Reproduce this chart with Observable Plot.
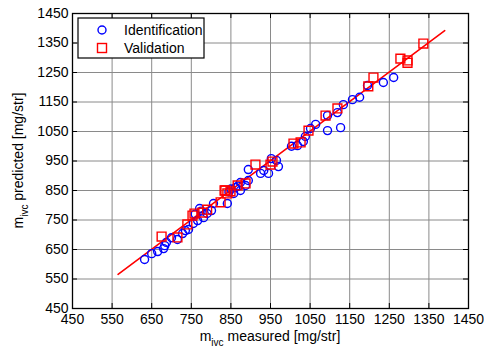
<!DOCTYPE html>
<html>
<head>
<meta charset="utf-8">
<script src="https://cdn.jsdelivr.net/npm/d3@7"></script>
<script src="https://cdn.jsdelivr.net/npm/@observablehq/plot@0.6"></script>
<style>
  html, body { margin: 0; padding: 0; background: #fff; }
  #chart { width: 484px; height: 352px; }
</style>
</head>
<body>
<div id="chart"></div>
<script>
const xTicks = [450, 550, 650, 750, 850, 950, 1050, 1150, 1250, 1350, 1450];
const yTicks = [450, 550, 650, 750, 850, 950, 1050, 1150, 1250, 1350, 1450];

const idMeasured = [632, 650, 665, 680, 683, 687, 700, 715, 728, 735, 743, 755, 760, 766, 771, 775, 781, 790, 801, 806, 841, 845, 850, 857, 862, 868, 874, 887, 874, 894, 894, 925, 933, 945, 952, 970, 965, 1003, 1018, 1033, 1038, 1051, 1064, 1094, 1127, 1094, 1119, 1134, 1157, 1175, 1195, 1235, 1261];
const idPredicted = [616, 636, 643, 653, 663, 674, 690, 684, 704, 714, 718, 738, 770, 748, 789, 780, 758, 772, 782, 806, 806, 845, 855, 840, 860, 865, 850, 867, 877, 884, 921, 908, 918, 908, 958, 931, 952, 1000, 1002, 1016, 1033, 1060, 1074, 1053, 1063, 1104, 1114, 1141, 1158, 1166, 1206, 1216, 1233];

const valMeasured = [675, 715, 740, 753, 758, 778, 790, 824, 834, 841, 849, 836, 867, 887, 912, 950, 955, 1008, 1026, 1046, 1089, 1119, 1197, 1210, 1278, 1296, 1296, 1336];
const valPredicted = [694, 691, 735, 765, 772, 775, 785, 810, 850, 840, 847, 850, 867, 874, 938, 938, 948, 1009, 1013, 1053, 1104, 1128, 1203, 1233, 1297, 1291, 1283, 1348];

const fitMeasured = [565, 1390];
const fitPredicted = [566, 1392];

const identification = idMeasured.map((x, i) => ({x, y: idPredicted[i]}));
const validation = valMeasured.map((x, i) => ({x, y: valPredicted[i]}));
const fit = fitMeasured.map((x, i) => ({x, y: fitPredicted[i]}));

const W = 484, H = 352;
const mL = 72, mR = 16, mT = 13, mB = 44;
const innerW = W - mL - mR, innerH = H - mT - mB;
const fmt = d => String(d);

const plot = Plot.plot({
  width: W,
  height: H,
  marginLeft: mL,
  marginRight: mR,
  marginTop: mT,
  marginBottom: mB,
  style: {fontFamily: "'Liberation Sans', Arial, Helvetica, sans-serif", fontSize: "14px", background: "white", color: "black"},
  x: {domain: [450, 1450], ticks: xTicks},
  y: {domain: [450, 1450], ticks: yTicks},
  marks: [
    Plot.gridX(xTicks, {stroke: "#8a8a8a", strokeOpacity: 1, strokeWidth: 1}),
    Plot.gridY(yTicks, {stroke: "#8a8a8a", strokeOpacity: 1, strokeWidth: 1}),
    Plot.tickX(xTicks, {x: d => d, stroke: "black", insetTop: innerH - 5}),
    Plot.tickX(xTicks, {x: d => d, stroke: "black", insetBottom: innerH - 5}),
    Plot.tickY(yTicks, {y: d => d, stroke: "black", insetRight: innerW - 5}),
    Plot.tickY(yTicks, {y: d => d, stroke: "black", insetLeft: innerW - 5}),
    Plot.axisX(xTicks, {tickSize: 0, tickPadding: 6, label: null, fontSize: 14, tickFormat: fmt}),
    Plot.axisY(yTicks, {tickSize: 0, tickPadding: 4, label: null, fontSize: 14, tickFormat: fmt}),
    Plot.line(fit, {x: "x", y: "y", stroke: "#ff0000", strokeWidth: 1.6}),
    Plot.dot(identification, {x: "x", y: "y", r: 4, stroke: "#0000ff", strokeWidth: 1.4, fill: "none"}),
    Plot.dot(validation, {x: "x", y: "y", r: 5, symbol: "square", stroke: "#ff0000", strokeWidth: 1.4, fill: "none"}),
    Plot.frame({stroke: "black", strokeWidth: 1.3})
  ]
});

document.getElementById("chart").appendChild(plot);

const svg = d3.select(plot);
const font = "'Liberation Sans', Arial, Helvetica, sans-serif";

// X axis label with subscript
const xl = svg.append("text")
  .attr("x", mL + innerW / 2)
  .attr("y", 341)
  .attr("text-anchor", "middle")
  .attr("font-family", font)
  .attr("font-size", 14)
  .attr("fill", "black");
xl.append("tspan").text("m");
xl.append("tspan").attr("dy", 5).attr("font-size", 10).text("ivc");
xl.append("tspan").attr("dy", -5).text(" measured [mg/str]");

// Y axis label with subscript
const yl = svg.append("text")
  .attr("transform", `translate(23, ${mT + innerH / 2}) rotate(-90)`)
  .attr("text-anchor", "middle")
  .attr("font-family", font)
  .attr("font-size", 14)
  .attr("fill", "black");
yl.append("tspan").text("m");
yl.append("tspan").attr("dy", 5).attr("font-size", 10).text("ivc");
yl.append("tspan").attr("dy", -5).text(" predicted [mg/str]");

// Legend
const lg = svg.append("g").attr("text-anchor", "start");
lg.append("rect").attr("x", 78).attr("y", 18).attr("width", 126).attr("height", 40)
  .attr("fill", "white").attr("stroke", "black").attr("stroke-width", 1.2);
lg.append("circle").attr("cx", 102).attr("cy", 30).attr("r", 4)
  .attr("fill", "none").attr("stroke", "#0000ff").attr("stroke-width", 1.4);
lg.append("rect").attr("x", 97.5).attr("y", 43.5).attr("width", 9).attr("height", 9)
  .attr("fill", "none").attr("stroke", "#ff0000").attr("stroke-width", 1.4);
lg.append("text").attr("x", 124).attr("y", 35).attr("text-anchor", "start").attr("font-family", font).attr("font-size", 14).attr("fill", "black").text("Identification");
lg.append("text").attr("x", 124).attr("y", 53).attr("text-anchor", "start").attr("font-family", font).attr("font-size", 14).attr("fill", "black").text("Validation");
</script>
</body>
</html>
